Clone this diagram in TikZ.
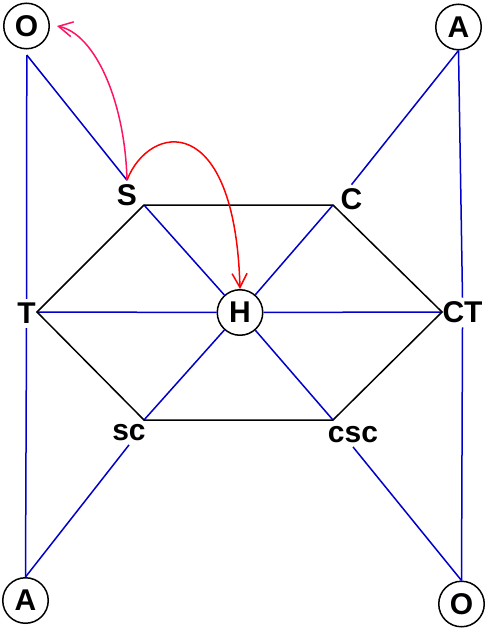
\documentclass[tikz,border=0pt]{standalone}
\usepackage{fontspec}
\setmainfont{Liberation Sans}
\usetikzlibrary{arrows.meta}
\definecolor{lineblue}{RGB}{0,0,200}
\definecolor{arrowpink}{RGB}{255,20,100}
\definecolor{arrowred}{RGB}{255,0,0}
\tikzset{
  letter/.style={font=\fontsize{30}{30}\selectfont\bfseries},
  ring/.style={letter, circle, draw=black, line width=1.5pt, fill=white, minimum size=45.5pt, inner sep=0pt},
  lab/.style={letter, inner sep=4pt},
  blueline/.style={draw=lineblue, line width=1.5pt},
  hexline/.style={draw=black, line width=1.5pt},
  barb/.style={-{Straight Barb[length=14pt,width=15pt]}, line width=1.5pt},
}
\begin{document}
\begin{tikzpicture}[x=1pt,y=-1pt]
\path[fill=white] (0,0) rectangle (486,629);
% circled letters
\node[ring] (O1) at (26.5,26) {O};
\node[ring] (A1) at (458.5,27) {A};
\node[ring] (A2) at (25.5,600.5) {A};
\node[ring] (O2) at (461.5,604) {O};
\node[ring] (H) at (240,312.5) {H};
% plain labels
\node[lab] (S) at (127,195) {S};
\node[lab] (C) at (351.5,199.5) {C};
\node[lab] (T) at (26.5,313.5) {T};
\node[lab] (CT) at (462.5,312.5) {CT};
\node[lab] (sc) at (129,432.5) {sc};
\node[lab] (csc) at (353,434.5) {csc};
% hexagon corners
\coordinate (v1) at (144,205);
\coordinate (v2) at (333,205);
\coordinate (v3) at (442,312);
\coordinate (v4) at (333,420);
\coordinate (v5) at (144,420);
\coordinate (v6) at (37,312);
\coordinate (O1foot) at (26.8,55);
% blue connectors
\draw[blueline] (O1foot) -- (T.north);
\draw[blueline] (T.south) -- (A2.north);
\draw[blueline] (O1foot) -- (S.north);
\draw[blueline] (A1.south) -- (C.north);
\draw[blueline] (A1.south) -- (CT.north);
\draw[blueline] (CT.south) -- (O2.north);
\draw[blueline] (sc.south) -- (A2.north);
\draw[blueline] (csc.south) -- (O2.north);
\foreach \v in {v1,v2,v3,v4,v5,v6}{\draw[blueline] (\v) -- (H);}
% hexagon
\draw[hexline] (v1) -- (v2) -- (v3) -- (v4) -- (v5) -- (v6) -- cycle;
% arrows
\draw[barb, arrowpink] (S.north) .. controls +(-2,-79) and +(38,8) .. ([xshift=7pt]O1.east);
\draw[barb, arrowred] (S.north) .. controls +(22,-57) and +(-5,-180) .. (H.north);
\end{tikzpicture}
\end{document}
